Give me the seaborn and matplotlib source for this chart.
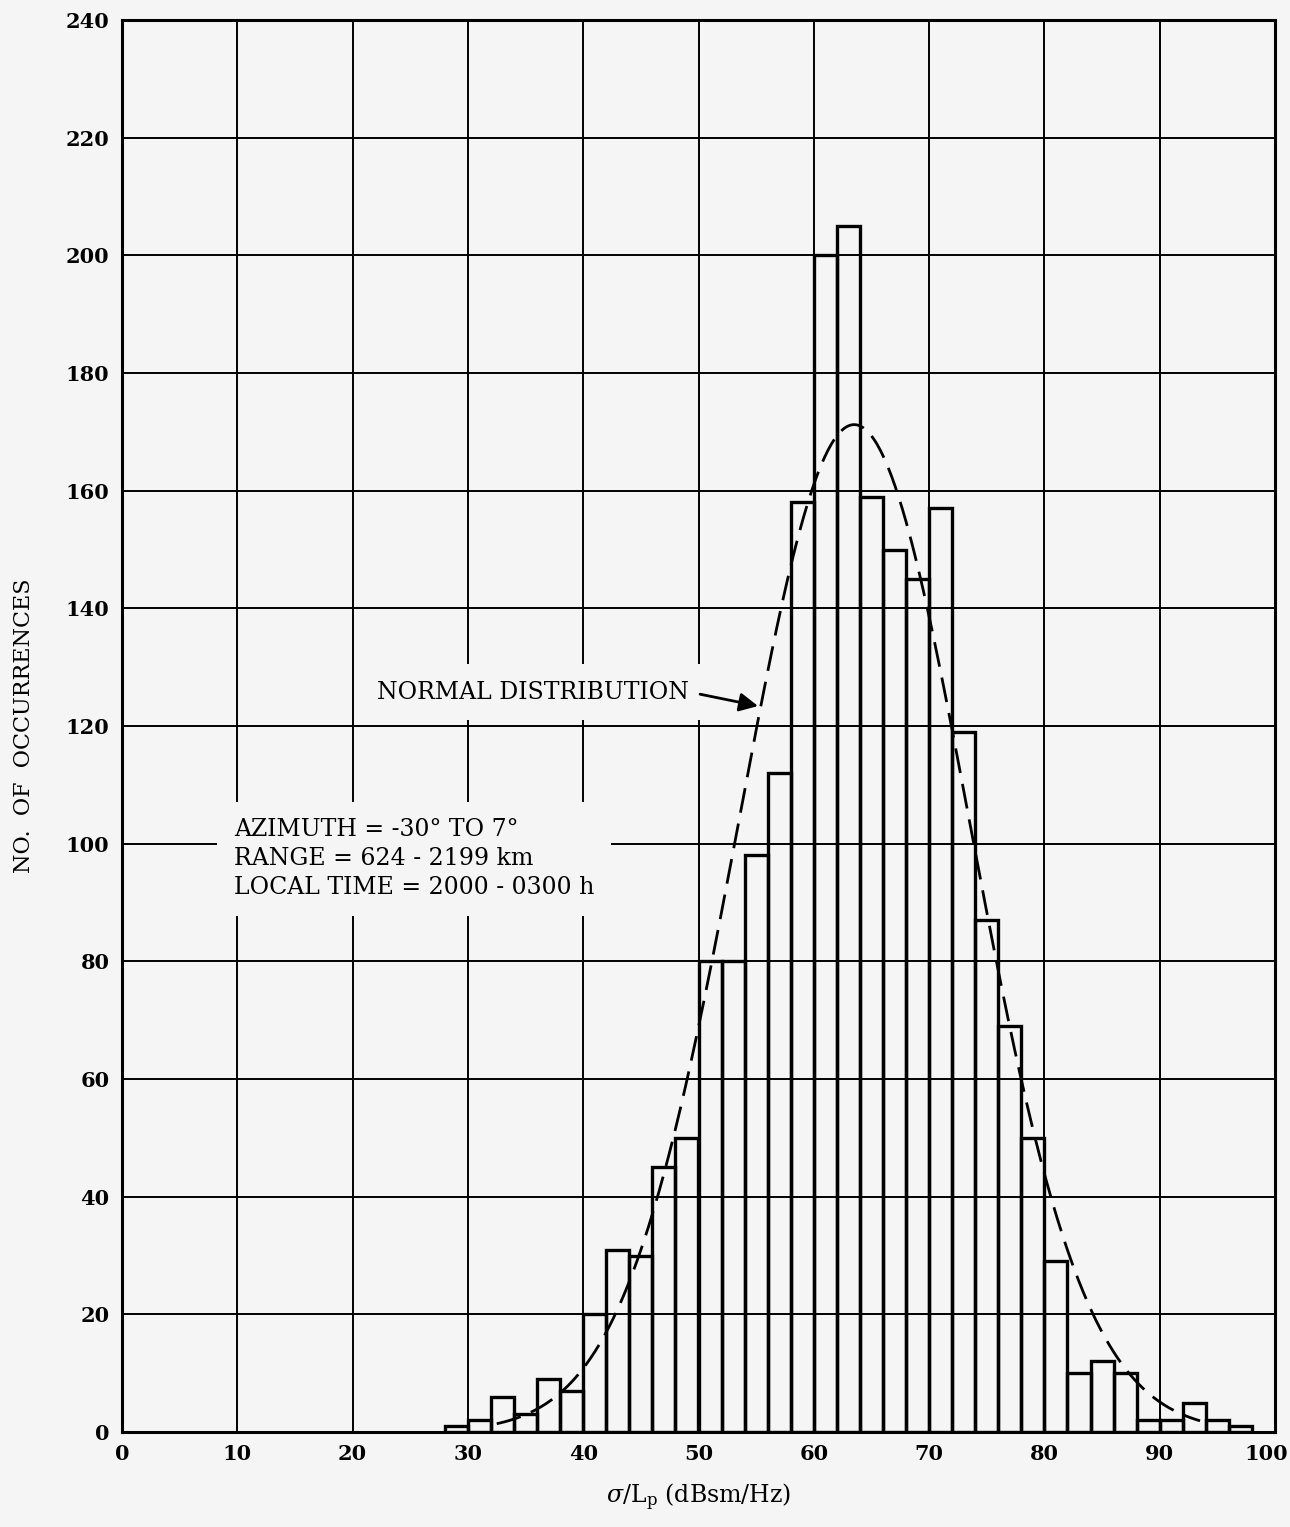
import numpy as np
import pandas as pd
import seaborn as sns
import matplotlib.pyplot as plt
import matplotlib.transforms as mtransforms

# histogram bins (dBsm/Hz), 2 dB wide
bin_edges = list(range(28, 100, 2))
counts = [1, 2, 6, 3, 9, 7, 20, 31, 30, 45, 50, 80, 80, 98, 112, 158, 200, 205,
          159, 150, 145, 157, 119, 87, 69, 50, 29, 10, 12, 10, 2, 2, 5, 2, 1]

x_ticks = list(range(0, 101, 10))
y_ticks = list(range(0, 241, 20))

# fitted normal curve
normal_mean = 63.5
normal_sigma = 10.0
normal_span = (32.5, 93.5)

info_text = 'AZIMUTH = -30° TO 7°\nRANGE = 624 - 2199 km\nLOCAL TIME = 2000 - 0300 h'

bg = '#f5f5f5'
sns.set_theme(style='white')
plt.rcParams['font.family'] = ['DejaVu Serif']
plt.rcParams['mathtext.fontset'] = 'dejavuserif'
for key in ['text.color', 'axes.labelcolor', 'xtick.color', 'ytick.color']:
    plt.rcParams[key] = 'black'

fig = plt.figure(figsize=(12.9, 15.27), dpi=100, facecolor=bg)
ax = fig.add_axes([122 / 1290, 1 - 1432 / 1527, 1153 / 1290, 1412 / 1527])
ax.set_facecolor(bg)

df = pd.DataFrame({'level': [e + 1 for e in bin_edges[:-1]], 'count': counts})
sns.histplot(data=df, x='level', weights='count', bins=bin_edges,
             fill=False, element='bars', color='black', linewidth=2.4,
             ax=ax, zorder=3)

# normal curve scaled to the histogram
bw = bin_edges[1] - bin_edges[0]
xs = np.linspace(normal_span[0], normal_span[1], 400)
ys = sum(counts) * bw / (normal_sigma * np.sqrt(2 * np.pi)) * \
    np.exp(-0.5 * ((xs - normal_mean) / normal_sigma) ** 2)
sns.lineplot(x=xs, y=ys, ax=ax, color='black', linewidth=2,
             linestyle=(0, (9, 4)), zorder=4)

ax.set_xlim(0, 100)
ax.set_ylim(0, 240)
ax.set_xticks(x_ticks)
ax.set_yticks(y_ticks)
ax.grid(True, color='black', linewidth=1.4)
ax.set_axisbelow(True)
ax.tick_params(length=0, labelsize=15, pad=9, labelcolor='black')
for lbl in ax.get_xticklabels() + ax.get_yticklabels():
    lbl.set_fontweight('bold')
# nudge the "100" label left so it stays inside the figure
last = ax.get_xticklabels()[-1]
last.set_transform(last.get_transform() +
                   mtransforms.ScaledTranslation(-0.09, 0, fig.dpi_scale_trans))
for s in ax.spines.values():
    s.set_linewidth(2.2)
    s.set_color('black')
    s.set_zorder(5)

ax.set_xlabel(r'$\sigma$/L$_{\rm p}$ (dBsm/Hz)', fontsize=17, color='black')
ax.xaxis.set_label_coords(0.5, -0.035)
ax.set_ylabel('NO.  OF  OCCURRENCES', fontsize=16, color='black')
ax.yaxis.set_label_coords(-0.0755, 0.5)

ax.text(22.1, 125.7, 'NORMAL DISTRIBUTION', fontsize=17, ha='left', va='center',
        color='black',
        bbox=dict(boxstyle='square,pad=0.7', fc=bg, ec='none'), zorder=2)
ax.annotate('', xy=(55.4, 123.3), xytext=(49.9, 125.5),
            arrowprops=dict(arrowstyle='-|>', color='black', lw=2,
                            mutation_scale=28), zorder=4)
ax.text(9.7, 104.3, info_text, fontsize=17, ha='left', va='top', linespacing=1.33,
        color='black',
        bbox=dict(boxstyle='square,pad=0.7', fc=bg, ec='none'), zorder=2)

fig.savefig('out.png', dpi=100, facecolor=bg)
